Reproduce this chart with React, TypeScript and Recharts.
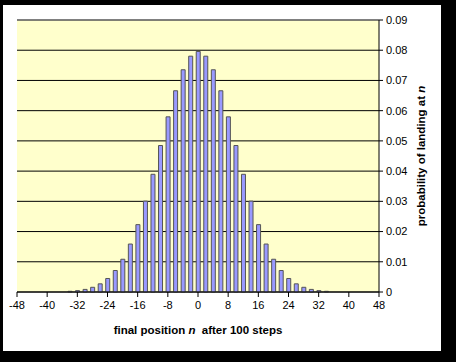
import React from 'react';
import {
  BarChart,
  Bar,
  XAxis,
  YAxis,
  CartesianGrid,
  ReferenceLine,
  Label,
} from 'recharts';

const positions = [
  -34, -32, -30, -28, -26, -24, -22, -20, -18, -16, -14, -12, -10, -8, -6, -4, -2,
  0, 2, 4, 6, 8, 10, 12, 14, 16, 18, 20, 22, 24, 26, 28, 30, 32, 34,
];

const probabilities = [
  0.00023, 0.00046, 0.00086, 0.00156, 0.0027, 0.00447, 0.00711, 0.01084, 0.01587,
  0.02229, 0.03007, 0.03895, 0.04847, 0.05796, 0.06659, 0.07353, 0.07803,
  0.07959,
  0.07803, 0.07353, 0.06659, 0.05796, 0.04847, 0.03895, 0.03007, 0.02229,
  0.01587, 0.01084, 0.00711, 0.00447, 0.0027, 0.00156, 0.00086, 0.00046, 0.00023,
];

const xTicks = [-48, -40, -32, -24, -16, -8, 0, 8, 16, 24, 32, 40, 48];
const yTicks = [0, 0.01, 0.02, 0.03, 0.04, 0.05, 0.06, 0.07, 0.08, 0.09];

const data = positions.map((n, i) => ({ n, p: probabilities[i] }));

const font = '"Liberation Sans", Arial, sans-serif';

const XTitle = (props: any) => {
  const { viewBox } = props;
  const cx = viewBox.x + viewBox.width / 2;
  return (
    <text
      x={cx}
      y={viewBox.y + 42}
      textAnchor="middle"
      fontFamily={font}
      fontSize={11.5}
      fontWeight="bold"
      fill="#000"
      style={{ whiteSpace: 'pre' }}
    >
      final position <tspan fontStyle="italic">n</tspan>{'  '}after 100 steps
    </text>
  );
};

const YTitle = (props: any) => {
  const { viewBox } = props;
  const x = viewBox.x + 42;
  const y = viewBox.y + viewBox.height / 2;
  return (
    <text
      x={x}
      y={y}
      transform={`rotate(-90 ${x} ${y})`}
      textAnchor="middle"
      dominantBaseline="central"
      fontFamily={font}
      fontSize={11.5}
      fontWeight="bold"
      fill="#000"
    >
      probability of landing at <tspan fontStyle="italic">n</tspan>
    </text>
  );
};

export default function App() {
  return (
    <div
      style={{
        position: 'absolute',
        left: 0,
        top: 0,
        width: 456,
        height: 362,
        background: '#000',
      }}
    >
      <div
        style={{
          position: 'absolute',
          left: 3,
          top: 5,
          width: 438,
          height: 346,
          background: '#fff',
        }}
      >
        <BarChart
          width={438}
          height={346}
          data={data}
          margin={{ top: 15, left: 14, right: 22, bottom: 29 }}
          barSize={4}
        >
          <CartesianGrid
            vertical={false}
            stroke="#000"
            fill="#ffffcc"
            fillOpacity={1}
          />
          <XAxis
            dataKey="n"
            type="number"
            domain={[-48, 48]}
            ticks={xTicks}
            interval={0}
            height={30}
            tickSize={5}
            stroke="#000"
            tick={{ fill: '#000', fontFamily: font, fontSize: 11 }}
            tickMargin={4}
          >
            <Label content={<XTitle />} />
          </XAxis>
          <YAxis
            orientation="right"
            domain={[0, 0.09]}
            ticks={yTicks}
            interval={0}
            width={40}
            tickSize={4}
            stroke="#000"
            tick={{ fill: '#000', fontFamily: font, fontSize: 11 }}
            tickMargin={3}
            tickFormatter={(v: number) => (v === 0 ? '0' : v.toFixed(2))}
          >
            <Label content={<YTitle />} />
          </YAxis>
          <ReferenceLine y={0.09} stroke="#808080" />
          <Bar
            dataKey="p"
            fill="#9999ff"
            stroke="#555555"
            strokeWidth={1}
            isAnimationActive={false}
          />
        </BarChart>
      </div>
    </div>
  );
}
